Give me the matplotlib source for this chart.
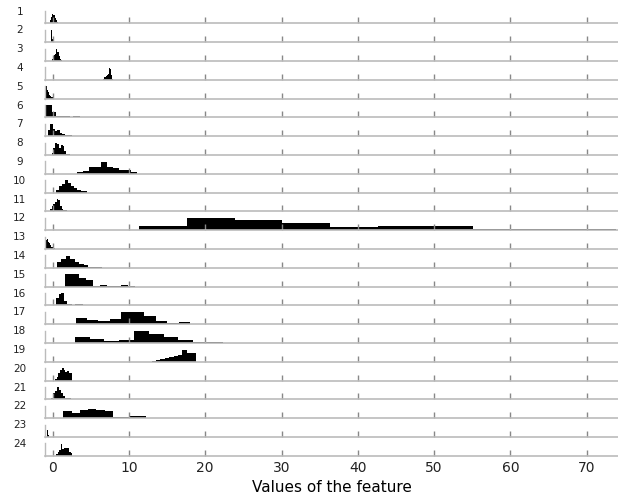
import numpy as np
import matplotlib
matplotlib.use("Agg")
import matplotlib.pyplot as plt

# one histogram per feature row, 10 equal bins between min and max
row_labels = [str(i) for i in range(1, 25)]
row_min = [-0.40, -0.25, -0.10, 6.63, -0.92, -0.92, -0.62, -0.13, 3.15, 0.43, -0.35, 11.35,
           -0.92, 0.52, 1.60, 0.43, 3.00, 2.92, 12.97, 0.30, -0.26, 1.40, -0.79, 0.43]
row_max = [0.75, 0.05, 1.17, 7.86, 0.08, 3.58, 2.49, 2.27, 11.00, 4.46, 1.83, 73.85,
           0.30, 6.42, 10.80, 4.00, 18.00, 22.30, 18.74, 2.57, 2.36, 12.20, -0.45, 2.57]
row_heights = [
    [0.10, 0.30, 0.55, 0.80, 0.65, 0.70, 0.45, 0.25, 0.15, 0.08],
    [0.20, 0.50, 1.00, 1.00, 0.80, 0.60, 0.40, 0.30, 0.20, 0.10],
    [0.20, 0.40, 0.50, 0.60, 1.00, 0.70, 0.70, 0.40, 0.20, 0.10],
    [0.10, 0.20, 0.20, 0.30, 0.40, 0.50, 1.00, 0.90, 0.40, 0.10],
    [0.60, 1.00, 0.70, 0.50, 0.30, 0.30, 0.20, 0.10, 0.10, 0.10],
    [1.00, 1.00, 0.40, 0.12, 0.12, 0.10, 0.08, 0.00, 0.08, 0.08],
    [0.50, 1.00, 0.60, 0.40, 0.50, 0.30, 0.20, 0.10, 0.08, 0.08],
    [0.20, 0.60, 1.00, 0.90, 0.60, 0.80, 0.70, 0.30, 0.10, 0.08],
    [0.15, 0.25, 0.55, 0.55, 1.00, 0.55, 0.45, 0.30, 0.30, 0.15],
    [0.25, 0.50, 0.70, 1.00, 0.80, 0.55, 0.40, 0.20, 0.15, 0.10],
    [0.20, 0.40, 0.60, 0.80, 1.00, 0.90, 0.40, 0.20, 0.10, 0.08],
    [0.38, 1.00, 0.85, 0.55, 0.25, 0.32, 0.38, 0.10, 0.08, 0.08],
    [0.70, 1.00, 0.80, 0.60, 0.45, 0.30, 0.20, 0.15, 0.10, 0.08],
    [0.50, 0.70, 1.00, 0.70, 0.45, 0.35, 0.20, 0.10, 0.08, 0.08],
    [1.00, 1.00, 0.70, 0.50, 0.08, 0.10, 0.08, 0.08, 0.12, 0.08],
    [0.60, 0.90, 1.00, 0.35, 0.08, 0.08, 0.00, 0.08, 0.08, 0.08],
    [0.50, 0.35, 0.25, 0.40, 1.00, 1.00, 0.70, 0.30, 0.10, 0.20],
    [0.45, 0.30, 0.20, 0.25, 1.00, 0.70, 0.50, 0.25, 0.08, 0.12],
    [0.08, 0.12, 0.20, 0.30, 0.40, 0.45, 0.55, 1.00, 0.70, 0.70],
    [0.10, 0.30, 0.60, 0.90, 1.00, 0.85, 0.70, 0.80, 0.60, 0.60],
    [0.10, 0.50, 0.70, 1.00, 0.80, 0.50, 0.30, 0.15, 0.10, 0.08],
    [0.60, 0.45, 0.70, 0.75, 0.65, 0.60, 0.10, 0.08, 0.15, 0.15],
    [0.30, 1.00, 0.80, 0.60, 0.50, 0.40, 0.30, 0.20, 0.10, 0.08],
    [0.15, 0.35, 0.50, 1.00, 0.55, 0.65, 0.65, 0.60, 0.30, 0.20],
]
x_ticks = [0, 10, 20, 30, 40, 50, 60, 70]

W, H = 618, 496
fig = plt.figure(figsize=(W / 100, H / 100), dpi=100)

left_px, right_px = 45, 618
first_base, pitch, ax_h = 23.4, 18.8, 12.5

for i, lab in enumerate(row_labels):
    base = first_base + i * pitch
    ax = fig.add_axes([left_px / W, 1 - base / H, (right_px - left_px) / W, ax_h / H])
    edges = np.linspace(row_min[i], row_max[i], len(row_heights[i]) + 1)
    ax.stairs(row_heights[i], edges, fill=True, color="black", lw=0.3)
    ax.set_xlim(-1.0, 74.1)
    ax.set_ylim(0, 1.02)
    for s in ["top", "right"]:
        ax.spines[s].set_visible(False)
    ax.spines["bottom"].set_color("#bbbbbb")
    ax.spines["bottom"].set_linewidth(1.2)
    ax.spines["left"].set_color("#bbbbbb")
    ax.spines["left"].set_linewidth(1.0)
    ax.set_yticks([])
    ax.set_xticks(x_ticks)
    ax.tick_params(axis="x", direction="in", length=4.0, width=1.0, color="#888888",
                   labelsize=10, labelcolor="#222222", pad=4)
    if i < len(row_labels) - 1:
        ax.tick_params(axis="x", labelbottom=False)
    else:
        ax.set_xlabel("Values of the feature", fontsize=11, labelpad=3)
    ax.text(-0.044, 0.95, lab, transform=ax.transAxes, ha="center", va="center",
            fontsize=7.5, color="#222222")
    ax.patch.set_alpha(0)

fig.savefig("out.png", dpi=100)
